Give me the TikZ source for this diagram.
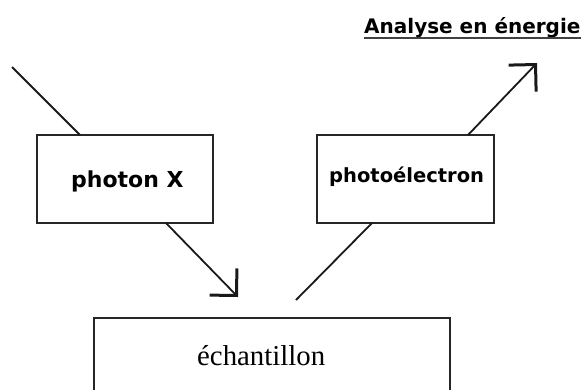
\documentclass[tikz,border=0pt]{standalone}
\usepackage{fontspec}
\setmainfont{Liberation Serif}
\newfontfamily\boxfont{DejaVu Sans}
\usetikzlibrary{arrows.meta,calc}
\begin{document}
\begin{tikzpicture}[x=1pt,y=-1pt,
  boxstyle/.style={draw=black!85, line width=1.8pt, inner sep=0pt},
  lbl/.style={anchor=base west, inner sep=0pt},
  conn/.style={line width=1.8pt, draw=black!90},
  arr/.style={conn, -{Straight Barb[angle=90:27pt, line width=3pt]}}]
\useasboundingbox (0,0) rectangle (585,389);
\clip (0,0) rectangle (585,389);
\node[boxstyle, minimum width=176pt, minimum height=88pt] (photon) at (125,179) {};
\node[lbl, font=\boxfont\bfseries\fontsize{22}{24}\selectfont] (photonlbl) at (71,187) {photon X};
\node[boxstyle, minimum width=177pt, minimum height=88pt] (photoel) at (405.5,179) {};
\node[lbl, font=\boxfont\bfseries\fontsize{19.5}{22}\selectfont] (photoellbl) at (329,182) {photoélectron};
\node[boxstyle, minimum width=356pt, minimum height=110pt, anchor=north west] (sample) at (93,317) {};
\node[lbl, font=\fontsize{28.8}{30}\selectfont] (samplelbl) at (197,365) {échantillon};
\node[lbl, font=\boxfont\bfseries\fontsize{20}{22}\selectfont] (analyse) at (364,33) {Analyse en énergie};
\draw[line width=2.2pt, draw=black!75] ($(analyse.base west)+(0,5)$) -- ($(analyse.base east)+(0,5)$);
\coordinate (src) at (12,67);
\coordinate (pin) at (80,135);
\coordinate (pout) at (166,223);
\coordinate (ptip) at (238,297);
\coordinate (estart) at (296,300);
\coordinate (ein) at (372,223);
\coordinate (eout) at (468,135);
\coordinate (etip) at (537,63);
\draw[conn] (src) -- (pin);
\draw[arr] (pout) -- (ptip);
\draw[conn] (estart) -- (ein);
\draw[arr] (eout) -- (etip);
\end{tikzpicture}
\end{document}
